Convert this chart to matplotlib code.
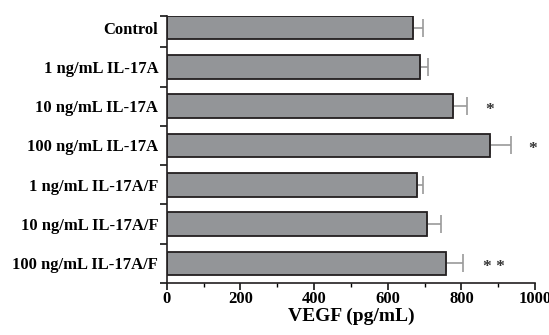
import numpy as np
import matplotlib as mpl
mpl.use('Agg')
import matplotlib.pyplot as plt
from matplotlib.ticker import FixedLocator, MultipleLocator

# data
groups = ["Control", "1 ng/mL IL-17A", "10 ng/mL IL-17A", "100 ng/mL IL-17A",
          "1 ng/mL IL-17A/F", "10 ng/mL IL-17A/F", "100 ng/mL IL-17A/F"]
vegf = [668, 688, 778, 878, 679, 708, 758]
sem = [29, 21, 38, 56, 18, 37, 47]
marks = ["", "", "*", "*", "", "", "* *"]
mark_x = [0, 0, 864, 981, 0, 0, 859]

plt.rcParams['font.family'] = ['Liberation Serif', 'DejaVu Serif']
plt.rcParams['font.weight'] = 'bold'

fig = plt.figure(figsize=(5.49, 3.35), dpi=100)
ax = fig.add_axes([0.3036, 0.155, 0.671, 0.798])

ypos = np.arange(len(groups))
ax.barh(ypos, vegf, height=0.6, color='#939598', edgecolor='#231f20', linewidth=1.3, zorder=2)
ax.errorbar(vegf, ypos, xerr=[np.zeros(len(sem)), sem], fmt='none', ecolor='#9a9a9a',
            elinewidth=1.2, capsize=6.5, capthick=1.2, zorder=1)

for i in range(len(groups)):
    if marks[i]:
        ax.text(mark_x[i], ypos[i] + 0.1, marks[i], ha='left', va='center', fontsize=12.5,
                fontweight='bold', color='#333333')

ax.set_ylim(6.5, -0.3)
ax.set_xlim(0, 1000)
ax.set_yticks(ypos)
ax.set_yticklabels(groups, fontsize=12, fontweight='bold')
ax.yaxis.set_minor_locator(FixedLocator([-0.3] + list(np.arange(0.5, 6.6, 1))))
ax.tick_params(axis='y', which='major', length=0, pad=6)
ax.tick_params(axis='y', which='minor', length=5, width=1.1, direction='out')

ax.xaxis.set_major_locator(MultipleLocator(200))
ax.xaxis.set_minor_locator(MultipleLocator(100))
ax.tick_params(axis='x', which='major', length=5, width=1.1, labelsize=12, pad=1)
ax.tick_params(axis='x', which='minor', length=3, width=1.0)
for lab in ax.get_xticklabels():
    lab.set_fontweight('bold')
ax.set_xlabel("VEGF (pg/mL)", fontsize=14, fontweight='bold', labelpad=0)

for s in ['top', 'right']:
    ax.spines[s].set_visible(False)
for s in ['left', 'bottom']:
    ax.spines[s].set_linewidth(1.2)
    ax.spines[s].set_color('#231f20')

plt.savefig("out.png", dpi=100)
